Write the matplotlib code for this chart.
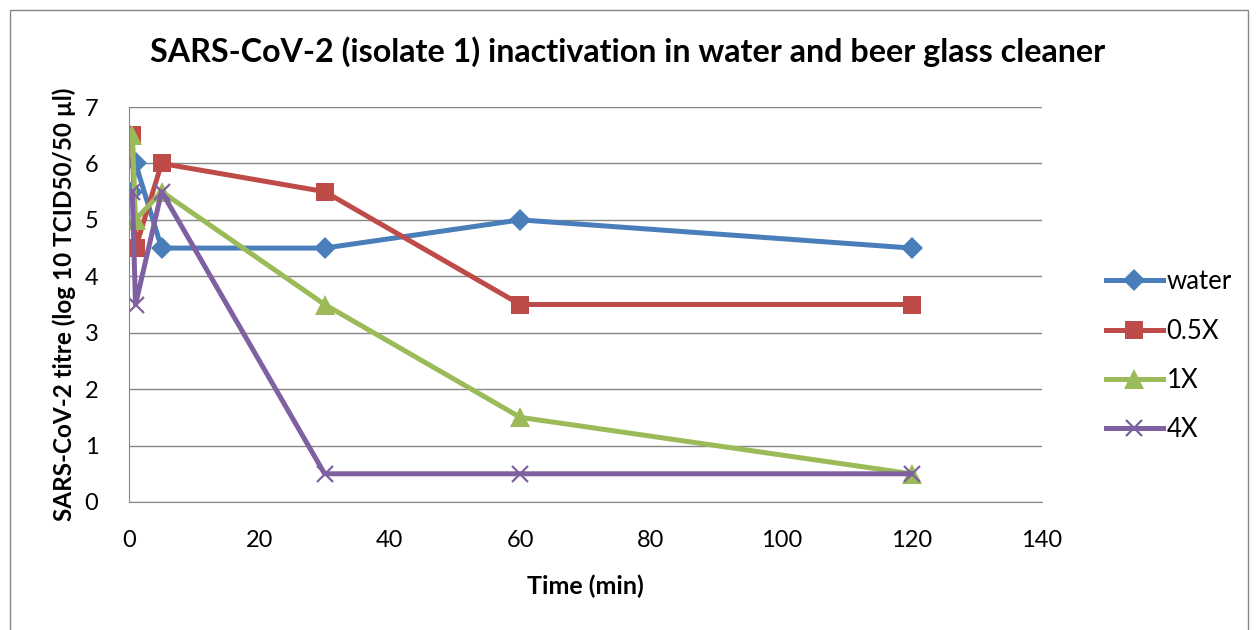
import matplotlib.pyplot as plt
from matplotlib.patches import Rectangle

plt.rcParams["font.family"] = ["Lato", "DejaVu Sans"]

times = [0.5, 1, 5, 30, 60, 120]
water = [5.5, 6.0, 4.5, 4.5, 5.0, 4.5]
half_x = [6.5, 4.5, 6.0, 5.5, 3.5, 3.5]
one_x = [6.5, 5.0, 5.5, 3.5, 1.5, 0.5]
four_x = [5.5, 3.5, 5.5, 0.5, 0.5, 0.5]

series = [
    ("water", water, "#4A7EBB", "D", 11),
    ("0.5X", half_x, "#BE4B48", "s", 13),
    ("1X", one_x, "#9BBB59", "^", 14),
    ("4X", four_x, "#7F60A0", "x", 12),
]

fig = plt.figure(figsize=(12.56, 6.3), dpi=100)
ax = fig.add_axes([129 / 1256, 1 - 502 / 630, (1042 - 129) / 1256, (502 - 107) / 630])

for name, vals, col, mk, ms in series:
    ax.plot(times, vals, color=col, lw=3.6, marker=mk, ms=ms,
            mew=1.6 if mk == "x" else 0, mec=col, mfc=col, label=name)

ax.set_xlim(0, 140)
ax.set_ylim(0, 7)
ax.set_xticks(range(0, 141, 20))
ax.set_yticks(range(0, 8))
ax.grid(axis="y", color="#868686", lw=1)
ax.set_axisbelow(True)
for s in ("top", "right"):
    ax.spines[s].set_visible(False)
for s in ("left", "bottom"):
    ax.spines[s].set_color("#868686")
ax.tick_params(axis="both", labelsize=17, length=0)
ax.tick_params(axis="x", pad=20)
ax.tick_params(axis="y", pad=22)

ax.set_xlabel("Time (min)", fontsize=18, fontweight="bold", labelpad=17)
ax.set_ylabel("SARS-CoV-2 titre (log 10 TCID50/50 µl)", fontsize=17.5,
              fontweight="bold", labelpad=6)
fig.text(0.5, 1 - 52 / 630, "SARS-CoV-2 (isolate 1) inactivation in water and beer glass cleaner",
         ha="center", va="center", fontsize=23.2, fontweight="bold")

ax.legend(loc="center left", bbox_to_anchor=(1.045, 0.37), frameon=False,
          fontsize=18.5, handlelength=2.2, labelspacing=0.95, handletextpad=0.15)

fig.patches.append(Rectangle((10 / 1256, -0.01), 1238 / 1256, 1 - 10 / 630 + 0.01,
                             transform=fig.transFigure, fill=False,
                             edgecolor="#868686", lw=1))

fig.savefig("out.png", dpi=100)
